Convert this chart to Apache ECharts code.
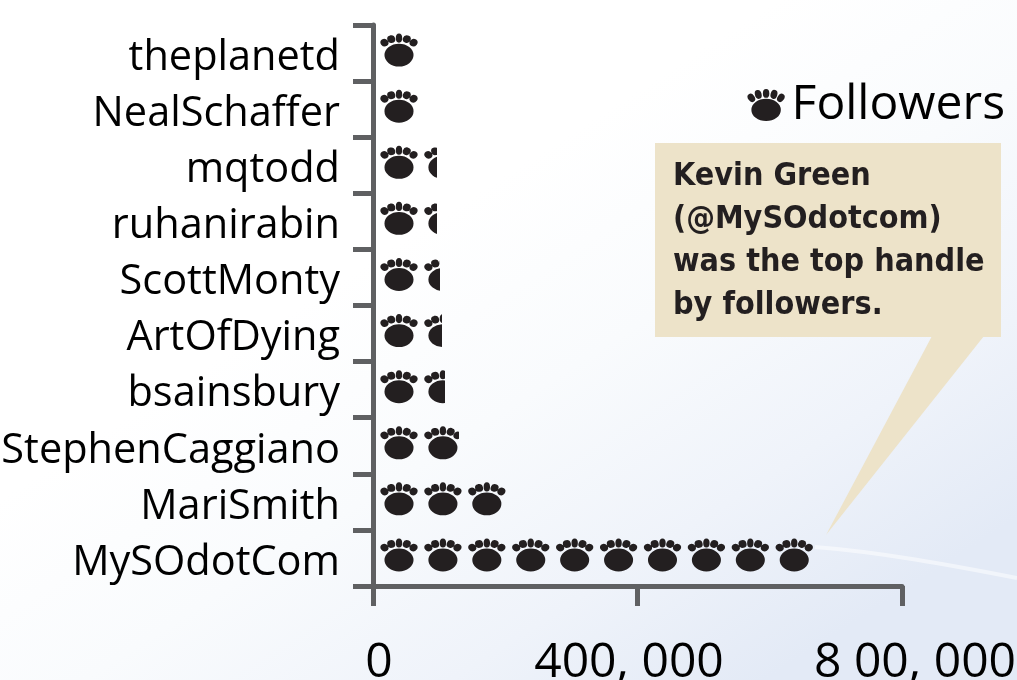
<!DOCTYPE html>
<html>
<head>
<meta charset="utf-8">
<style>
    html, body { margin: 0; padding: 0; background: #fff; }
    #chart { width: 1017px; height: 680px; }
</style>
<script src="https://cdn.jsdelivr.net/npm/echarts@6/dist/echarts.min.js"></script>
</head>
<body>
<div id="chart"></div>
<script>
var handles = ['theplanetd', 'NealSchaffer', 'mqtodd', 'ruhanirabin', 'ScottMonty',
    'ArtOfDying', 'bsainsbury', 'StephenCaggiano', 'MariSmith', 'MySOdotCom'];
var followers = [69600, 68000, 96800, 96800, 101300, 104300, 108900, 130000, 204000, 667000];
var tickValues = [0, 400000, 800000];
var tickLabels = ['0', '400, 000', '8 00, 000'];
var calloutLines = ['Kevin Green', '(@MySOdotcom)', 'was the top handle', 'by followers.'];

// paw: pad + five toes
var paw = 'path://M4 21.3a15 11.3 0 1 0 30 0a15 11.3 0 1 0 -30 0z' +
    'M1.36 5.23a4.6 3.4 55 1 0 5.28 7.54a4.6 3.4 55 1 0 -5.28 -7.54z' +
    'M9.81 1.06a4.6 3.3 75 1 0 2.38 8.88a4.6 3.3 75 1 0 -2.38 -8.88z' +
    'M15.7 4.5a3.3 4.5 0 1 0 6.6 0a3.3 4.5 0 1 0 -6.6 0z' +
    'M28.19 1.06a4.6 3.3 105 1 0 -2.38 8.88a4.6 3.3 105 1 0 2.38 -8.88z' +
    'M36.64 5.23a4.6 3.4 125 1 0 -5.28 7.54a4.6 3.4 125 1 0 5.28 -7.54z';

var chart = echarts.init(document.getElementById('chart'));
var axisGrey = '#5f6062';
var labelFont = '"Open Sans", "Noto Sans", sans-serif';

var option = {
    animation: false,
    backgroundColor: {
        type: 'linear', x: 0.4, y: 0.35, x2: 0.7, y2: 1.05,
        colorStops: [
            { offset: 0, color: '#ffffff' },
            { offset: 0.35, color: '#f9fbfd' },
            { offset: 0.7, color: '#eff3fa' },
            { offset: 1, color: '#e3eaf6' }
        ]
    },
    grid: { left: 373, right: 115, top: 25, bottom: 94, outerBoundsMode: 'none' },
    legend: {
        data: ['Followers'],
        right: 7,
        top: 76,
        icon: paw,
        itemWidth: 41,
        itemHeight: 32,
        itemGap: 8,
        textStyle: { color: '#000', fontSize: 48, fontFamily: labelFont }
    },
    xAxis: {
        type: 'value',
        min: 0,
        max: 800000,
        interval: 400000,
        splitLine: { show: false },
        axisLine: { show: true, lineStyle: { color: axisGrey, width: 5 } },
        axisTick: { show: true, length: 20, lineStyle: { color: axisGrey, width: 5 } },
        axisLabel: {
            margin: 53,
            color: '#000',
            fontSize: 48,
            fontFamily: labelFont,
            formatter: function (v) {
                // the labels sit a little off their ticks in the original
                var i = tickValues.indexOf(v);
                return '{t' + i + '|' + tickLabels[i] + '}';
            },
            rich: {
                t0: { padding: [0, 0, 0, 12], fontSize: 48, fontFamily: labelFont },
                t1: { padding: [0, 17, 0, 0], fontSize: 48, fontFamily: labelFont },
                t2: { padding: [0, 0, 0, 26], fontSize: 48, fontFamily: labelFont }
            }
        }
    },
    yAxis: {
        type: 'category',
        inverse: true,
        data: handles,
        axisLine: { show: true, lineStyle: { color: axisGrey, width: 5 } },
        axisTick: { show: true, length: 20, lineStyle: { color: axisGrey, width: 5 } },
        axisLabel: {
            interval: 0,
            margin: 33,
            color: '#000',
            fontSize: 41.5,
            fontFamily: labelFont,
            // labels hang a few px below the band centre
            verticalAlign: 'top',
            lineHeight: 10
        }
    },
    series: [{
        name: 'Followers',
        type: 'pictorialBar',
        data: followers,
        symbol: paw,
        symbolSize: [38, 33],
        symbolOffset: [7, -3],
        symbolRepeat: true,
        symbolMargin: 4,
        symbolClip: true,
        symbolBoundingData: 788000,
        itemStyle: { color: '#231f20' },
        z: 5
    }],
    graphic: [
        {
            type: 'bezierCurve', silent: true, z: 1,
            shape: { x1: 815, y1: 547, cpx1: 880, cpy1: 552, cpx2: 950, cpy2: 565, x2: 1017, y2: 578 },
            style: { stroke: '#ffffff', lineWidth: 4, fill: null, opacity: 0.5 }
        },
        {
            type: 'polygon', silent: true, z: 3,
            shape: { points: [[932, 336], [984, 336], [826, 535]] },
            style: { fill: '#ede3c9' }
        },
        {
            type: 'rect', silent: true, z: 3,
            shape: { x: 655, y: 143, width: 346, height: 194 },
            style: { fill: '#ede3c9' }
        },
        {
            type: 'text', silent: true, z: 4,
            x: 673, y: 155,
            style: {
                text: calloutLines.join('\n'),
                fill: '#231f20',
                font: 'bold 32px "Liberation Sans Narrow", "DejaVu Sans Condensed", sans-serif',
                lineHeight: 43
            }
        }
    ]
};
chart.setOption(option);
</script>
</body>
</html>
